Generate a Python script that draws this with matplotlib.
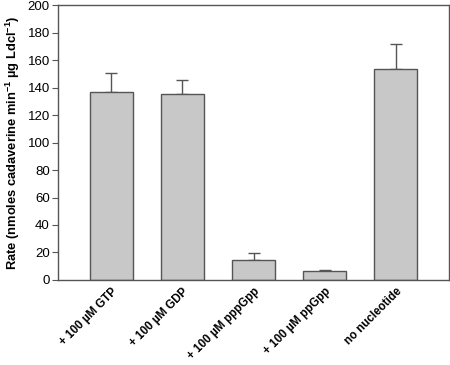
import numpy as np
import matplotlib.pyplot as plt

plt.rcParams['font.family'] = ['Liberation Sans', 'DejaVu Sans']
plt.rcParams['mathtext.default'] = 'regular'

labels = ["+ 100 µM GTP", "+ 100 µM GDP", "+ 100 µM pppGpp", "+ 100 µM ppGpp", "no nucleotide"]
rate = [137, 135, 14.8, 6.5, 153.5]
err = [13.3, 10.5, 4.6, 0.4, 18.4]

fig = plt.figure(figsize=[4.5, 3.65], dpi=100)
ax = fig.add_axes([0.129, 0.233, 0.869, 0.753])

x = np.arange(len(labels))
ax.bar(x, rate, width=0.6, color='#c8c8c8', edgecolor='#555555', linewidth=1.0, zorder=2)
ax.errorbar(x, rate, yerr=[np.zeros(len(err)), err], fmt='none', ecolor='#555555',
            elinewidth=1.0, capsize=4, capthick=1.0, zorder=1)

ax.set_xlim(-0.75, 4.75)
ax.set_ylim(0, 200)
ax.set_yticks(range(0, 201, 20))
ax.set_xticks(x)
ax.set_xticklabels(labels, rotation=45, ha='right', rotation_mode='anchor', fontsize=8.3, fontweight='bold')
ax.tick_params(axis='x', length=0, pad=4)
ax.tick_params(axis='y', direction='out', length=4, color='#555555', labelsize=9.5, pad=2)
for s in ax.spines.values():
    s.set_color('#555555')
    s.set_linewidth(1.0)

ax.set_ylabel("Rate (nmoles cadaverine min$^{-1}$ µg Ldcl$^{-1}$)", fontsize=9.3, fontweight='bold', labelpad=4)

plt.savefig("out.png", dpi=100)
